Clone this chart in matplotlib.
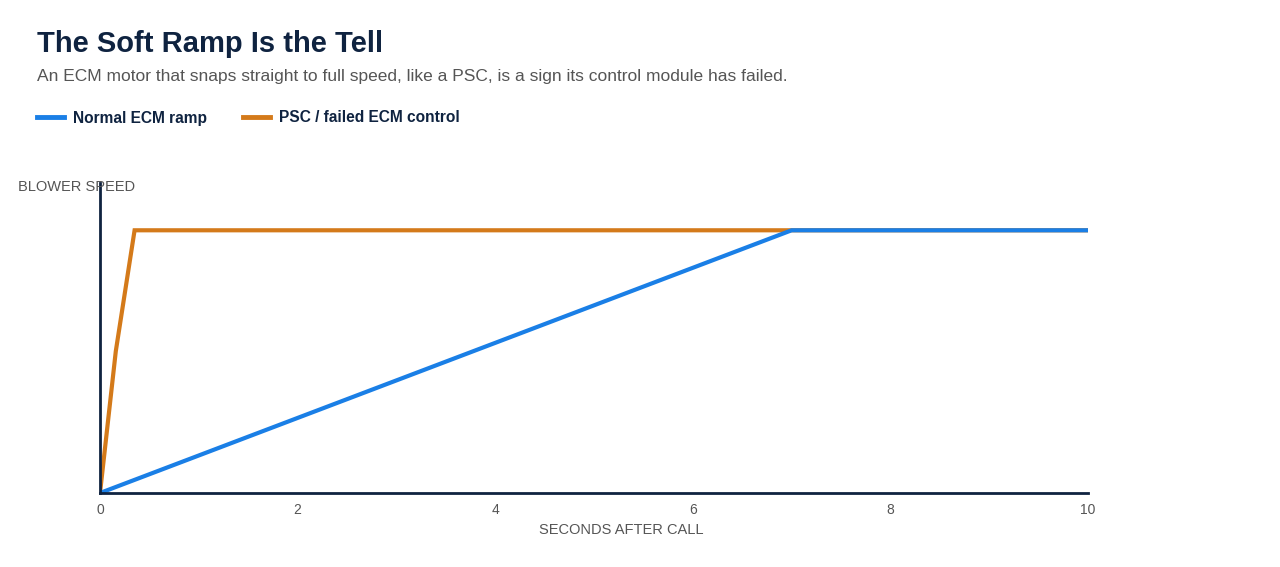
import matplotlib
matplotlib.use("Agg")
from matplotlib import pyplot as plt
from matplotlib.lines import Line2D

plt.rcParams['font.family'] = ['Liberation Sans', 'DejaVu Sans']

# Data
ecm_seconds = [0, 7.0, 10]
ecm_speed = [0, 100, 100]
psc_seconds = [0, 0.16, 0.35, 10]
psc_speed = [0, 54, 100, 100]
x_ticks = [0, 2, 4, 6, 8, 10]

blue = "#1a7fe6"
orange = "#d47a1a"
navy = "#0f2340"
gray = "#555555"

fig = plt.figure(figsize=(12.8, 5.67), dpi=100)
ax = fig.add_axes([100 / 1280, 1 - 493 / 567, 988 / 1280, 310 / 567])

ax.plot(psc_seconds, psc_speed, color=orange, lw=3, solid_joinstyle="miter", zorder=3)
ax.plot(ecm_seconds, ecm_speed, color=blue, lw=3, solid_joinstyle="miter", zorder=4)

ax.set_xlim(0, 10)
ax.set_ylim(0, 118)
ax.set_xticks(x_ticks)
ax.set_xticklabels([str(t) for t in x_ticks])
ax.set_yticks([])
ax.tick_params(axis="x", length=0, pad=7, labelsize=10, labelcolor=gray)
for side in ["top", "right"]:
    ax.spines[side].set_visible(False)
for side in ["left", "bottom"]:
    ax.spines[side].set_color(navy)
    ax.spines[side].set_linewidth(2)
    ax.spines[side].set_zorder(5)

# Titles
fig.text(37 / 1280, 1 - 44 / 567, "The Soft Ramp Is the Tell", fontsize=21, fontweight="bold",
         color=navy, va="center", ha="left")
fig.text(37 / 1280, 1 - 77 / 567, "An ECM motor that snaps straight to full speed, like a PSC, is a sign its control module has failed.",
         fontsize=12.5, color=gray, va="center", ha="left")

# Legend
handles = [Line2D([], [], color=blue, lw=3.5), Line2D([], [], color=orange, lw=3.5)]
fig.legend(handles, ["Normal ECM ramp", "PSC / failed ECM control"], loc="center left",
           bbox_to_anchor=(37 / 1280, 1 - 118 / 567), ncol=2, frameon=False,
           prop={"weight": "bold", "size": 11.2}, labelcolor=navy, handlelength=1.72,
           handletextpad=0.57, columnspacing=2.36, borderpad=0, borderaxespad=0)

# Axis labels
fig.text(18 / 1280, 1 - 187 / 567, "BLOWER SPEED", fontsize=10.5, color=gray, va="center", ha="left")
fig.text(621 / 1280, 1 - 530 / 567, "SECONDS AFTER CALL", fontsize=10.5, color=gray, va="center", ha="center")

fig.savefig("out.png", dpi=100)
